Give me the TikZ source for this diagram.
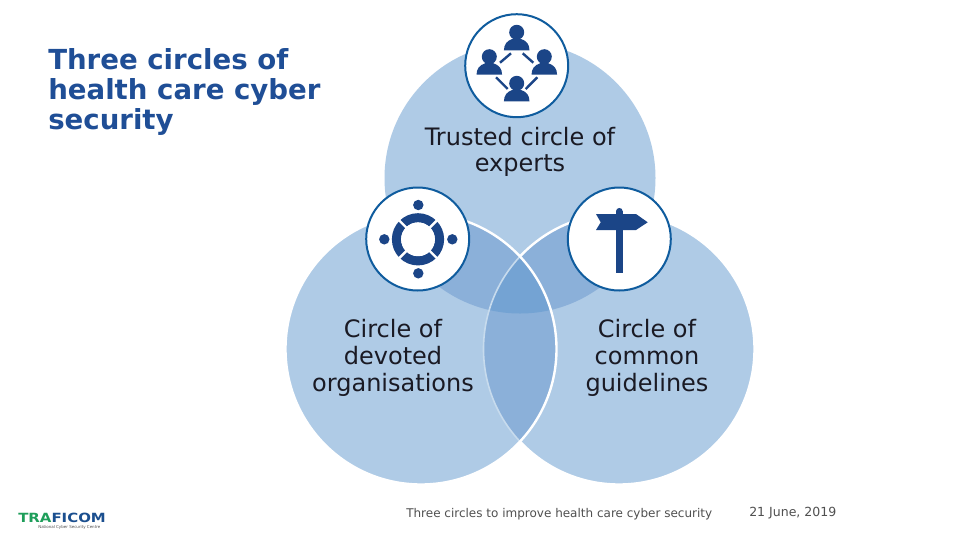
\documentclass[tikz,border=0pt]{standalone}
\usepackage{fontspec}
\setmainfont{DejaVu Sans}
\definecolor{base}{HTML}{AFCBE6}
\definecolor{dbl}{HTML}{8BB0D9}
\definecolor{tpl}{HTML}{74A3D3}
\definecolor{icon}{HTML}{1B4587}
\definecolor{ring}{HTML}{0F5C9E}
\definecolor{title}{HTML}{1F4E96}
\definecolor{ink}{HTML}{1A1A24}
\definecolor{foot}{HTML}{505050}
\definecolor{lgreen}{HTML}{1E9E5A}
\definecolor{lblue}{HTML}{1B4F8F}
\tikzset{
  badge/.style={draw=ring,fill=white,line width=1.5pt},
  lab/.style={align=center,text=ink,font=\fontsize{18}{20}\selectfont},
  foottext/.style={text=foot,font=\fontsize{9}{11}\selectfont,anchor=west},
  conn/.style={draw=icon,line width=1.8pt},
}
\newcommand{\person}[2]{%
  \fill[icon] (#1,#2) circle (7.5);
  \fill[icon] (#1-12.8,#2+18) .. controls (#1-12.6,#2+12) and (#1-10,#2+8.5) .. (#1-4,#2+6.5)
    -- (#1+4,#2+6.5) .. controls (#1+10,#2+8.5) and (#1+12.6,#2+12) .. (#1+12.8,#2+18) -- cycle;
}
\begin{document}
\begin{tikzpicture}[x=0.75pt,y=-0.75pt]
\useasboundingbox (0,0) rectangle (960,540);
\fill[white] (0,0) rectangle (960,540);
\def\topc{(520,178) circle (135.5)}
\def\leftc{(421,349) circle (135.5)}
\def\rightc{(619,349) circle (135.5)}
\fill[base] \topc; \fill[base] \leftc; \fill[base] \rightc;
\begin{scope}\clip \topc; \fill[dbl] \leftc; \fill[dbl] \rightc; \end{scope}
\begin{scope}\clip \leftc; \fill[dbl] \rightc; \end{scope}
\begin{scope}\clip \topc; \clip \leftc; \fill[tpl] \rightc; \end{scope}
% outlines: right circle's is dimmed where the left circle lies over it
\begin{scope}\clip \leftc; \draw[base!70!white,line width=1.2pt] \rightc; \end{scope}
\begin{scope}[even odd rule]
  \clip (0,0) rectangle (960,540) \leftc;
  \draw[white,line width=1.8pt] \rightc;
\end{scope}
\draw[white,line width=1.8pt] \leftc;
% badges
\draw[badge] (516.7,65.7) circle (51.5);
\draw[badge] (417.7,239) circle (51.5);
\draw[badge] (619.3,239) circle (51.5);
% people icon
\person{516.7}{32.3}\person{489.3}{56.7}\person{544.3}{56.7}\person{516.7}{83.3}
\coordinate (a1) at (500,62.7); \coordinate (a2) at (511,53.3);
\coordinate (b1) at (522.7,53.3); \coordinate (b2) at (533.3,62.7);
\coordinate (c1) at (496,77.3); \coordinate (c2) at (507.7,89);
\coordinate (d1) at (537.3,77.3); \coordinate (d2) at (525.7,89);
\draw[conn] (a1)--(a2); \draw[conn] (b1)--(b2); \draw[conn] (c1)--(c2); \draw[conn] (d1)--(d2);
% ring icon
\fill[icon] (418.3,205) circle (5.2) (418.3,273.3) circle (5.2) (384.3,239.3) circle (5.2) (452.3,239.3) circle (5.2);
\draw[icon,line width=6.9pt] (418,239.3) circle (21.5);
\draw[white,line width=1.8pt] (418-19.5,239.3-19.5) -- (418+19.5,239.3+19.5);
\draw[white,line width=1.8pt] (418-19.5,239.3+19.5) -- (418+19.5,239.3-19.5);
\fill[white] (418,239.3) circle (16.9);
% signpost icon
\fill[icon] (619.35,211.3) circle (3.35);
\fill[icon] (616,211.3) rectangle (622.7,272.7);
\fill[icon] (596,214) -- (636,214) -- (647.7,222.3) -- (636,230) -- (596,230) -- (600.7,222.3) -- cycle;
% texts
\node[anchor=north west,inner sep=0pt,align=left,text=title,font=\fontsize{20.7}{22.5}\selectfont\bfseries] (ttl) at (48,48) {Three circles of\\health care cyber\\security};
\node[lab] (t1) at (520,152) {Trusted circle of\\experts};
\node[lab] (t2) at (393,358) {Circle of\\devoted\\organisations};
\node[lab] (t3) at (647,358) {Circle of\\common\\guidelines};
\node[foottext,inner sep=0pt] (f1) at (406,514) {Three circles to improve health care cyber security};
\node[foottext,inner sep=0pt,font=\fontsize{9.4}{11}\selectfont] (f2) at (749,513) {21 June, 2019};
% logo
\node[anchor=west,inner sep=0pt,font=\fontsize{9.5}{10}\selectfont\bfseries] (logo) at (18,517.5) {\scalebox{1.18}[1]{\textcolor{lgreen}{TRA}\textcolor{lblue}{FICOM}}};
\node[anchor=west,inner sep=0pt,text=foot,font=\fontsize{3}{3.5}\selectfont] (logos) at (38,527.5) {National Cyber Security Centre};
\end{tikzpicture}
\end{document}
